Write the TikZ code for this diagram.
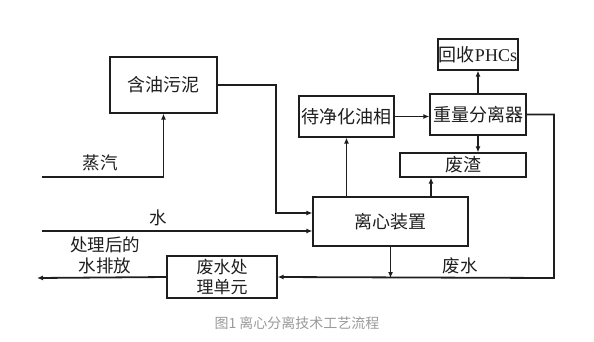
\documentclass[tikz,border=0pt]{standalone}
\usepackage{fontspec}
\setmainfont{Liberation Serif}
\newfontfamily\cjk{Noto Sans CJK SC}
\usetikzlibrary{arrows.meta,calc}
\definecolor{ink}{HTML}{1E1E1E}
\definecolor{capgray}{HTML}{9A9A9A}
\begin{document}
\begin{tikzpicture}[x=1pt,y=-1pt,
  box/.style={draw=ink,line width=1.2pt,inner sep=0pt,font=\cjk\fontsize{18}{21}\selectfont,text=ink,align=center},
  conn/.style={draw=ink,line width=1.8pt},
  arr/.style={conn,-{Latex[length=6pt,width=5pt]}},
  lbl/.style={font=\cjk\fontsize{17.5}{21}\selectfont,text=ink,align=center,inner sep=0pt}]
\useasboundingbox (0,0) rectangle (594,341);
\node[box,minimum width=107pt,minimum height=56pt] (sludge) at (163.5,85) {含油污泥};
\node[box,minimum width=80pt,minimum height=31pt] (phc) at (478,54.5) {回收\fontspec{Liberation Serif}PHCs};
\node[box,minimum width=95pt,minimum height=41pt] (oil) at (346.5,116.5) {待净化油相};
\node[box,minimum width=96pt,minimum height=41pt] (sep) at (478,114.5) {重量分离器};
\node[box,minimum width=126pt,minimum height=24pt] (slag) at (463,165) {废渣};
\node[box,minimum width=155pt,minimum height=49pt] (cent) at (390.5,221.5) {离心装置};
\node[box,minimum width=110pt,minimum height=42pt,font=\cjk\fontsize{17}{20}\selectfont] (wtu) at (222,277) {废水处\\理单元};
\coordinate (c1) at (276,213);
\coordinate (steam) at (42,177);
\coordinate (water) at (42,231);
\coordinate (c2) at (431,0);
\coordinate (r) at (554,278);
\coordinate (out) at (37,278);
\draw[arr] (sludge.east) -| (c1) -- (c1 -| cent.west);
\draw[arr] (steam) -| (sludge.south);
\draw[arr] (water) -- (water -| cent.west);
\draw[arr] (oil.south |- cent.north) -- (oil.south);
\draw[arr] (oil.east) -- (oil.east -| sep.west);
\draw[arr] (sep.north) -- (phc.south);
\draw[arr] (sep.south) -- (slag.north -| sep.south);
\draw[arr] (c2 |- cent.north) -- (c2 |- slag.south);
\draw[arr] (sep.east) -| (r) -- (wtu.east);
\draw[arr] (cent.south) -- (cent.south |- r);
\draw[arr] (wtu.west) -- (out);
\node[lbl] (lsteam) at (100,163) {蒸汽};
\node[lbl] (lwater) at (158,218) {水};
\node[lbl] (ltreated) at (105,255) {处理后的\\水排放};
\node[lbl] (lwaste) at (460,266) {废水};
\node[font=\cjk\fontsize{14}{17}\selectfont,text=capgray,inner sep=0pt] (cap) at (297,323) {图1 离心分离技术工艺流程};
\end{tikzpicture}
\end{document}
